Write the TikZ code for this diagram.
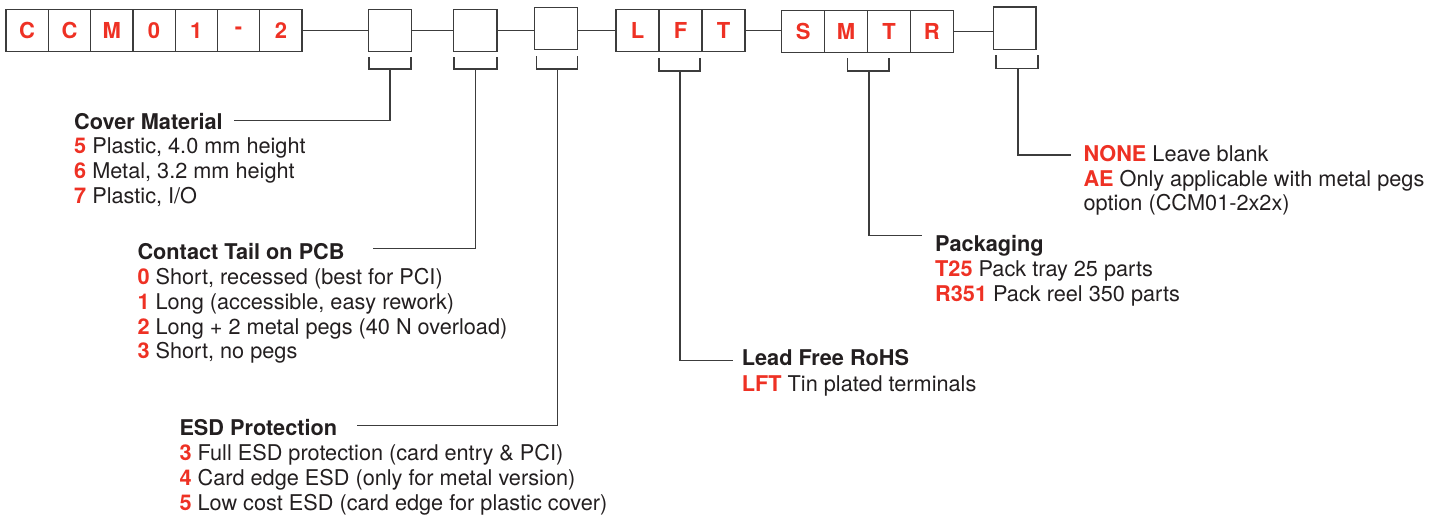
\documentclass[tikz,border=0pt]{standalone}
\usepackage{fontspec}
\setmainfont{TeX Gyre Heros}
\definecolor{pnred}{HTML}{EE3124}
\definecolor{pntext}{HTML}{231F20}
\definecolor{pnline}{HTML}{3C3C3C}
\newcommand{\rd}[1]{\textcolor{pnred}{\bfseries #1}}
\tikzset{
  cell/.style={draw=pnline, line width=1.3pt, minimum height=42pt, inner sep=0pt,
    text=pnred, font=\fontsize{22}{22}\selectfont\bfseries},
  wire/.style={draw=pnline, line width=1.3pt},
  hd/.style={anchor=base west, inner sep=0pt, text=pntext, font=\fontsize{21.7}{24}\selectfont\bfseries},
  bd/.style={anchor=base west, inner sep=0pt, text=pntext, font=\fontsize{21.7}{24}\selectfont},
}
\begin{document}
\begin{tikzpicture}[x=1pt,y=-1pt]
\useasboundingbox (0,0) rectangle (1445,515);
% prefix cells
\foreach \ch [count=\i] in {C,C,M,0,1,-,2}{
  \node[cell, minimum width=42.3pt] (c\i) at ({6+21.15+42.3*(\i-1)},30.7) {\ch};
}
% blank boxes
\node[cell, minimum width=43.4pt] (b1) at (390,30.7) {};
\node[cell, minimum width=43.6pt] (b2) at (475.2,30.7) {};
\node[cell, minimum width=43.4pt] (b3) at (556,28.3) {};
% LFT
\node[cell, minimum width=43pt] (l1) at (637.5,30.5) {L};
\node[cell, minimum width=43pt] (l2) at (680.5,30.5) {F};
\node[cell, minimum width=43pt] (l3) at (723.5,30.5) {T};
% SMTR
\node[cell, minimum width=42.9pt] (s1) at (803.2,31.2) {S};
\node[cell, minimum width=42.9pt] (s2) at (846.1,31.2) {M};
\node[cell, minimum width=42.9pt] (s3) at (889,31.2) {T};
\node[cell, minimum width=42.9pt] (s4) at (931.9,31.2) {R};
% last box
\node[cell, minimum width=42.7pt, minimum height=42.3pt] (b4) at (1014.7,28.2) {};
% chain lines
\draw[wire] (c7.east) -- (b1.west);
\draw[wire] (b1.east) -- (b2.west);
\draw[wire] (b2.east) -- (b2.east -| b3.west);
\draw[wire] (b3.east |- b2.east) -- (b2.east -| l1.west);
\draw[wire] (l3.east) -- (l3.east -| s1.west);
\draw[wire] (s4.east) -- (s4.east -| b4.west);
% brackets
\draw[wire] (369,57) -- (369,69) -- (411,69) -- (411,57);
\draw[wire] (454,57) -- (454,69) -- (497,69) -- (497,57);
\draw[wire] (536.7,56) -- (536.7,69) -- (577.7,69) -- (577.7,56);
\draw[wire] (659,58.3) -- (659,71) -- (700,71) -- (700,58.3);
\draw[wire] (847.7,58) -- (847.7,71) -- (889,71) -- (889,58);
\draw[wire] (996,55) -- (996,68.3) -- (1038,68.3) -- (1038,55);
\coordinate (k1) at (390,69);
\coordinate (k2) at (475.5,69);
\coordinate (k3) at (557.5,69);
\coordinate (k4) at (680,71);
\coordinate (k5) at (869,71);
\coordinate (k6) at (1018,68.3);
\coordinate (e1) at (234,120.7);
\coordinate (e2) at (373,248.3);
\coordinate (e3) at (356.7,425.7);
\coordinate (e4) at (732.7,360.7);
\coordinate (e5) at (921.7,235.7);
\coordinate (e6) at (1070.7,155);
\draw[wire] (k1) |- (e1);
\draw[wire] (k2) |- (e2);
\draw[wire] (k3) |- (e3);
\draw[wire] (k4) |- (e4);
\draw[wire] (k5) |- (e5);
\draw[wire] (k6) |- (e6);
% Cover material
\node[hd] (h1) at (74,129.3) {Cover Material};
\node[bd] (h1a) at (74,153.8) {\rd{5} Plastic, 4.0 mm height};
\node[bd] (h1b) at (74,178.6) {\rd{6} Metal, 3.2 mm height};
\node[bd] (h1c) at (74,203.4) {\rd{7} Plastic, I/O};
% Contact tail
\node[hd] (h2) at (137.3,259.3) {Contact Tail on PCB};
\node[bd] (h2a) at (137.3,284.5) {\rd{0} Short, recessed (best for PCI)};
\node[bd] (h2b) at (137.3,309.3) {\rd{1} Long (accessible, easy rework)};
\node[bd] (h2c) at (137.3,334.1) {\rd{2} Long + 2 metal pegs (40 N overload)};
\node[bd] (h2d) at (137.3,358.9) {\rd{3} Short, no pegs};
% ESD
\node[hd] (h3) at (179.3,435) {ESD Protection};
\node[bd] (h3a) at (179.3,460.7) {\rd{3} Full ESD protection (card entry \& PCI)};
\node[bd] (h3b) at (179.3,485.7) {\rd{4} Card edge ESD (only for metal version)};
\node[bd] (h3c) at (179.3,510.7) {\rd{5} Low cost ESD (card edge for plastic cover)};
% Lead free
\node[hd] (h4) at (741.7,365.7) {Lead Free RoHS};
\node[bd] (h4a) at (741.7,391) {\rd{LFT} Tin plated terminals};
% Packaging
\node[hd] (h5) at (935,251.7) {Packaging};
\node[bd] (h5a) at (935,276.7) {\rd{T25} Pack tray 25 parts};
\node[bd] (h5b) at (935,301.7) {\rd{R351} Pack reel 350 parts};
% None / AE
\node[bd] (h6a) at (1083.3,161.7) {\rd{NONE} Leave blank};
\node[bd] (h6b) at (1083.3,186) {\rd{AE} Only applicable with metal pegs};
\node[bd] (h6c) at (1083.3,210.5) {option (CCM01-2x2x)};
\end{tikzpicture}
\end{document}
